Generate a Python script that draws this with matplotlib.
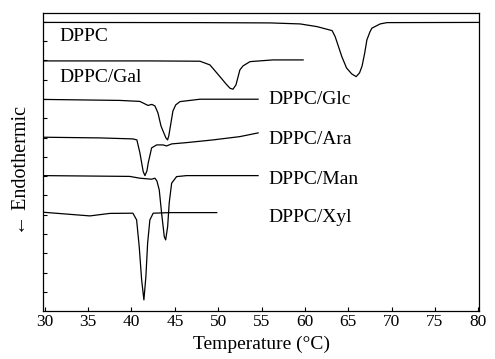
import numpy as np
import matplotlib.pyplot as plt

plt.rcParams['font.family'] = ['Liberation Serif', 'DejaVu Serif']

# DSC traces, temperature (C) and heat flow (arbitrary units, offset)
dppc_t = [29.77, 47.9, 56.0, 59.45, 61.4, 63.14, 63.49, 64.26, 64.8, 65.4, 65.91,
          66.3, 66.6, 66.9, 67.15, 67.5, 67.72, 68.68, 69.46, 80.1]
dppc_y = [288.5, 288.3, 288, 287, 284.3, 280.3, 274.3, 254.3, 243, 237, 234.3,
          238, 245, 258, 271, 279, 282.7, 287, 288.3, 288.5]

gal_t = [29.77, 42.1, 47.9, 49.05, 50.2, 50.9, 51.36, 51.7, 52.05, 52.5, 52.86,
         53.67, 56.3, 59.8]
gal_y = [250, 250, 249.7, 246, 234.3, 227, 222.7, 221.7, 226, 241, 245,
         249.3, 251, 251]

glc_t = [29.77, 38.66, 40.97, 41.55, 41.9, 42.36, 42.7, 43.05, 43.4, 43.63, 43.97,
         44.16, 44.3, 44.55, 44.78, 45.1, 45.59, 47.9, 54.6]
glc_y = [211.5, 210.5, 209.5, 207, 205.5, 206.5, 205, 198, 185, 180, 173,
         171, 175, 188, 200, 206, 209.3, 211.7, 211.7]

ara_t = [29.77, 36.35, 40.16, 40.62, 40.97, 41.35, 41.55, 41.78, 41.93, 42.32,
         42.9, 43.63, 44.05, 44.63, 46.36, 49.4, 52.5, 54.6]
ara_y = [173.7, 173, 172, 171, 158, 139.3, 135.3, 140, 148, 163,
         166, 166, 165, 167, 168.3, 171, 174.3, 178]

man_t = [29.77, 39.8, 40.97, 42.32, 42.7, 42.93, 43.2, 43.47, 43.78, 43.94,
         44.17, 44.35, 44.63, 45.2, 46.36, 54.6]
man_y = [135.3, 134.5, 132.7, 131.7, 132.7, 130, 121, 98, 74.3, 71,
         84.3, 108, 127.7, 134.3, 135.3, 135.3]

xyl_t = [29.77, 35.2, 37.5, 40.16, 40.59, 40.89, 41.17, 41.43, 41.66, 41.86,
         42.12, 42.5, 44.43, 49.83]
xyl_y = [98.7, 95, 97.5, 97.7, 91, 64.3, 31, 11, 34.3, 67.7,
         91, 97.7, 98.3, 98.3]

labels = ['DPPC', 'DPPC/Gal', 'DPPC/Glc', 'DPPC/Ara', 'DPPC/Man', 'DPPC/Xyl']
label_x = [31.7, 31.7, 55.75, 55.75, 55.75, 55.75]
label_y = [274, 233, 211, 171, 131, 93]

fig = plt.figure(figsize=(4.95, 3.59), dpi=100)
ax = fig.add_axes([0.087, 0.134, 0.881, 0.830])

for t, y in [(dppc_t, dppc_y), (gal_t, gal_y), (glc_t, glc_y),
             (ara_t, ara_y), (man_t, man_y), (xyl_t, xyl_y)]:
    ax.plot(t, y, color='black', lw=0.9)

for lab, lx, ly in zip(labels, label_x, label_y):
    ax.text(lx, ly, lab, fontsize=14, va='center', ha='left')

ax.set_xlim(29.8, 80.1)
ax.set_ylim(0, 298)
ax.set_xticks(range(30, 81, 5))
ax.set_yticks(np.arange(19, 290, 19.3))
ax.set_yticklabels([])
ax.tick_params(direction='in', length=3, width=0.8, labelsize=12.5, pad=2.5)
for s in ax.spines.values():
    s.set_linewidth(0.9)

ax.set_xlabel('Temperature (\u00b0C)', fontsize=14)
ax.xaxis.set_label_coords(0.5, -0.082)
ax.set_ylabel('\u2190 Endothermic', fontsize=14.5)
ax.yaxis.set_label_coords(-0.028, 0.47)

fig.savefig('out.png', dpi=100)
